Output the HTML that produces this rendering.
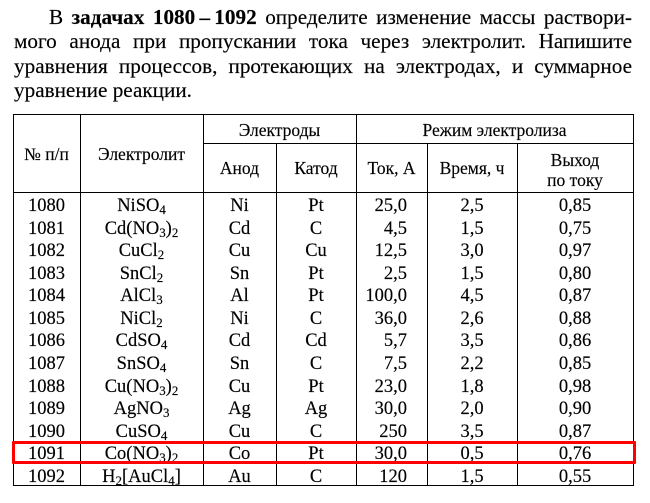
<!DOCTYPE html>
<html><head><meta charset="utf-8"><style>
html,body{margin:0;padding:0;background:#fff;}
body{width:650px;height:503px;position:relative;overflow:hidden;font-family:"Liberation Serif","Times New Roman","DejaVu Serif",serif;color:#000;-webkit-text-stroke:0.15px #000;}
.ln{position:absolute;left:14px;width:618px;font-size:21.2px;line-height:24.5px;text-align:justify;text-align-last:justify;white-space:nowrap;}
.c{position:absolute;text-align:center;white-space:nowrap;}
.h{font-size:17.5px;}
.row{position:absolute;left:0;width:650px;height:22.58px;line-height:22.58px;font-size:18.5px;}
.row div{position:absolute;top:0;white-space:nowrap;}
sub{font-size:0.7em;vertical-align:-0.22em;line-height:0;}
.box{position:absolute;left:12px;top:440.5px;width:624px;height:23px;box-sizing:border-box;border:3px solid #f00;border-radius:1px;}
</style></head><body>
<div class="ln" style="top:4.6px;text-indent:35px;">В <b>задачах 1080&#8201;–&#8201;1092</b> определите изменение массы раствори-</div>
<div class="ln" style="top:29.1px;">мого анода при пропускании тока через электролит. Напишите</div>
<div class="ln" style="top:53.6px;">уравнения процессов, протекающих на электродах, и суммарное</div>
<div class="ln" style="top:78.1px;text-align:left;text-align-last:left;">уравнение реакции.</div>

<svg width="650" height="503" style="position:absolute;left:0;top:0" shape-rendering="crispEdges">
<g stroke="#000" stroke-width="1">
<line x1="13" y1="114.5" x2="634" y2="114.5"/>
<line x1="203" y1="143.5" x2="634" y2="143.5"/>
<line x1="13" y1="192.5" x2="634" y2="192.5"/>
<line x1="13" y1="485.5" x2="634" y2="485.5"/>
<line x1="13.5" y1="114" x2="13.5" y2="486"/>
<line x1="80.5" y1="114" x2="80.5" y2="486"/>
<line x1="203.5" y1="114" x2="203.5" y2="486"/>
<line x1="276.5" y1="143" x2="276.5" y2="486"/>
<line x1="356.5" y1="114" x2="356.5" y2="486"/>
<line x1="427.5" y1="143" x2="427.5" y2="486"/>
<line x1="517.5" y1="143" x2="517.5" y2="486"/>
<line x1="633.5" y1="114" x2="633.5" y2="486"/>
</g></svg>

<div class="c h" style="left:13px;width:67px;top:143px;line-height:22px;">№ п/п</div>
<div class="c h" style="left:80px;width:123px;top:143px;line-height:22px;">Электролит</div>
<div class="c h" style="left:203px;width:153px;top:118.5px;line-height:22px;">Электроды</div>
<div class="c h" style="left:356px;width:277px;top:118.5px;line-height:22px;">Режим электролиза</div>
<div class="c h" style="left:203px;width:73px;top:157px;line-height:22px;">Анод</div>
<div class="c h" style="left:276px;width:80px;top:157px;line-height:22px;">Катод</div>
<div class="c h" style="left:356px;width:71px;top:157px;line-height:22px;">Ток, А</div>
<div class="c h" style="left:427px;width:90px;top:157px;line-height:22px;">Время, ч</div>
<div class="c h" style="left:517px;width:116px;top:149.5px;line-height:20px;">Выход<br>по току</div>

<div class="row" style="top:195px"><div style="left:13px;width:67px;text-align:center">1080</div><div style="left:80px;width:123px;text-align:center">NiSO<sub>4</sub></div><div style="left:203px;width:73px;text-align:center">Ni</div><div style="left:276px;width:80px;text-align:center">Pt</div><div style="left:356px;width:51px;text-align:right">25,0</div><div style="left:427px;width:90px;text-align:center">2,5</div><div style="left:517px;width:116px;text-align:center">0,85</div></div>
<div class="row" style="top:217.58px"><div style="left:13px;width:67px;text-align:center">1081</div><div style="left:80px;width:123px;text-align:center">Cd(NO<sub>3</sub>)<sub>2</sub></div><div style="left:203px;width:73px;text-align:center">Cd</div><div style="left:276px;width:80px;text-align:center">C</div><div style="left:356px;width:51px;text-align:right">4,5</div><div style="left:427px;width:90px;text-align:center">1,5</div><div style="left:517px;width:116px;text-align:center">0,75</div></div>
<div class="row" style="top:240.16px"><div style="left:13px;width:67px;text-align:center">1082</div><div style="left:80px;width:123px;text-align:center">CuCl<sub>2</sub></div><div style="left:203px;width:73px;text-align:center">Cu</div><div style="left:276px;width:80px;text-align:center">Cu</div><div style="left:356px;width:51px;text-align:right">12,5</div><div style="left:427px;width:90px;text-align:center">3,0</div><div style="left:517px;width:116px;text-align:center">0,97</div></div>
<div class="row" style="top:262.74px"><div style="left:13px;width:67px;text-align:center">1083</div><div style="left:80px;width:123px;text-align:center">SnCl<sub>2</sub></div><div style="left:203px;width:73px;text-align:center">Sn</div><div style="left:276px;width:80px;text-align:center">Pt</div><div style="left:356px;width:51px;text-align:right">2,5</div><div style="left:427px;width:90px;text-align:center">1,5</div><div style="left:517px;width:116px;text-align:center">0,80</div></div>
<div class="row" style="top:285.32px"><div style="left:13px;width:67px;text-align:center">1084</div><div style="left:80px;width:123px;text-align:center">AlCl<sub>3</sub></div><div style="left:203px;width:73px;text-align:center">Al</div><div style="left:276px;width:80px;text-align:center">Pt</div><div style="left:356px;width:51px;text-align:right">100,0</div><div style="left:427px;width:90px;text-align:center">4,5</div><div style="left:517px;width:116px;text-align:center">0,87</div></div>
<div class="row" style="top:307.9px"><div style="left:13px;width:67px;text-align:center">1085</div><div style="left:80px;width:123px;text-align:center">NiCl<sub>2</sub></div><div style="left:203px;width:73px;text-align:center">Ni</div><div style="left:276px;width:80px;text-align:center">C</div><div style="left:356px;width:51px;text-align:right">36,0</div><div style="left:427px;width:90px;text-align:center">2,6</div><div style="left:517px;width:116px;text-align:center">0,88</div></div>
<div class="row" style="top:330.48px"><div style="left:13px;width:67px;text-align:center">1086</div><div style="left:80px;width:123px;text-align:center">CdSO<sub>4</sub></div><div style="left:203px;width:73px;text-align:center">Cd</div><div style="left:276px;width:80px;text-align:center">Cd</div><div style="left:356px;width:51px;text-align:right">5,7</div><div style="left:427px;width:90px;text-align:center">3,5</div><div style="left:517px;width:116px;text-align:center">0,86</div></div>
<div class="row" style="top:353.06px"><div style="left:13px;width:67px;text-align:center">1087</div><div style="left:80px;width:123px;text-align:center">SnSO<sub>4</sub></div><div style="left:203px;width:73px;text-align:center">Sn</div><div style="left:276px;width:80px;text-align:center">C</div><div style="left:356px;width:51px;text-align:right">7,5</div><div style="left:427px;width:90px;text-align:center">2,2</div><div style="left:517px;width:116px;text-align:center">0,85</div></div>
<div class="row" style="top:375.64px"><div style="left:13px;width:67px;text-align:center">1088</div><div style="left:80px;width:123px;text-align:center">Cu(NO<sub>3</sub>)<sub>2</sub></div><div style="left:203px;width:73px;text-align:center">Cu</div><div style="left:276px;width:80px;text-align:center">Pt</div><div style="left:356px;width:51px;text-align:right">23,0</div><div style="left:427px;width:90px;text-align:center">1,8</div><div style="left:517px;width:116px;text-align:center">0,98</div></div>
<div class="row" style="top:398.22px"><div style="left:13px;width:67px;text-align:center">1089</div><div style="left:80px;width:123px;text-align:center">AgNO<sub>3</sub></div><div style="left:203px;width:73px;text-align:center">Ag</div><div style="left:276px;width:80px;text-align:center">Ag</div><div style="left:356px;width:51px;text-align:right">30,0</div><div style="left:427px;width:90px;text-align:center">2,0</div><div style="left:517px;width:116px;text-align:center">0,90</div></div>
<div class="row" style="top:420.8px"><div style="left:13px;width:67px;text-align:center">1090</div><div style="left:80px;width:123px;text-align:center">CuSO<sub>4</sub></div><div style="left:203px;width:73px;text-align:center">Cu</div><div style="left:276px;width:80px;text-align:center">C</div><div style="left:356px;width:51px;text-align:right">250</div><div style="left:427px;width:90px;text-align:center">3,5</div><div style="left:517px;width:116px;text-align:center">0,87</div></div>
<div class="row" style="top:443.38px"><div style="left:13px;width:67px;text-align:center">1091</div><div style="left:80px;width:123px;text-align:center">Co(NO<sub>3</sub>)<sub>2</sub></div><div style="left:203px;width:73px;text-align:center">Co</div><div style="left:276px;width:80px;text-align:center">Pt</div><div style="left:356px;width:51px;text-align:right">30,0</div><div style="left:427px;width:90px;text-align:center">0,5</div><div style="left:517px;width:116px;text-align:center">0,76</div></div>
<div class="row" style="top:465.96px"><div style="left:13px;width:67px;text-align:center">1092</div><div style="left:80px;width:123px;text-align:center">H<sub>2</sub>[AuCl<sub>4</sub>]</div><div style="left:203px;width:73px;text-align:center">Au</div><div style="left:276px;width:80px;text-align:center">C</div><div style="left:356px;width:51px;text-align:right">120</div><div style="left:427px;width:90px;text-align:center">1,5</div><div style="left:517px;width:116px;text-align:center">0,55</div></div>

<div class="box"></div>
</body></html>
